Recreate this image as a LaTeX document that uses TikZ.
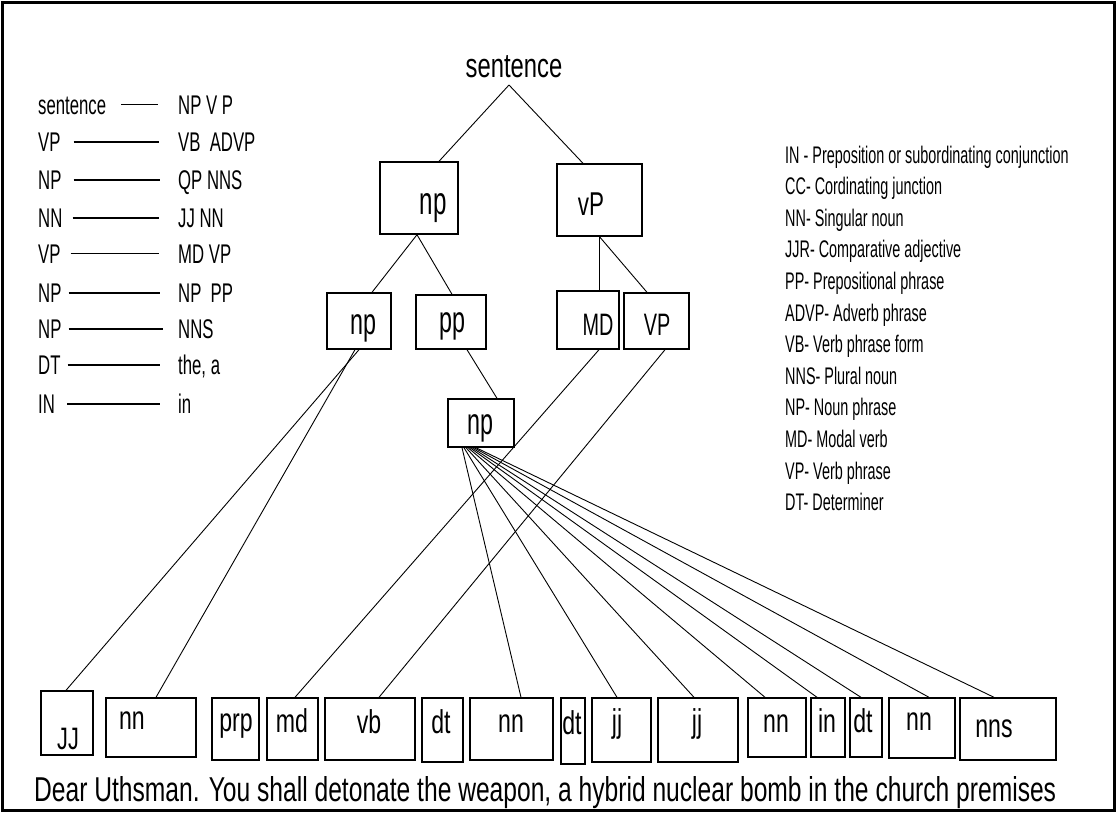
\documentclass[tikz,border=0pt]{standalone}
\usepackage{fontspec}
\setmainfont{Liberation Sans}
\usepackage{graphicx}
\newcommand{\sq}[3]{\scalebox{#1}[1]{\fontsize{#2}{#2}\selectfont #3}}
\begin{document}
\begin{tikzpicture}[x=1pt,y=-1pt,
  box/.style 2 args={draw, line width=1.4pt, inner sep=0pt, minimum width=#1, minimum height=#2},
  lbl/.style={inner sep=0pt, anchor=base},
  tl/.style={line width=0.9pt},
  rl/.style={line width=1.6pt},
  lt/.style={inner sep=0pt, anchor=base west, text height=19pt, text depth=0pt},
  lg/.style={inner sep=0pt, anchor=base west}]
\useasboundingbox (0,0) rectangle (1118,814);
\draw[line width=2.5pt] (2.5,2.5) rectangle (1114.5,810.5);

% top
\node[lbl] (sent) at (514,77) {\sq{0.7}{34}{sentence}};
\coordinate (apex) at (509,85);

% tree boxes
\node[box={78pt}{72pt}] (np1) at (419,198) {};
\node[box={85pt}{72pt}] (vp1) at (599.5,200) {};
\node[box={64pt}{56pt}] (np2) at (359,321) {};
\node[box={70pt}{54pt}] (pp) at (451,322) {};
\node[box={62pt}{58pt}] (md1) at (588,320) {};
\node[box={65pt}{56pt}] (vp2) at (656.5,321) {};
\node[box={66pt}{48pt}] (np3) at (481,423) {};

\node[lbl] (tnp1) at (433,214) {\sq{0.62}{39}{np}};
\node[lbl] (tvp1) at (591,215) {\sq{0.68}{33}{vP}};
\node[lbl] (tnp2) at (363,334) {\sq{0.63}{37}{np}};
\node[lbl] (tpp) at (452,332) {\sq{0.63}{37}{pp}};
\node[lbl] (tmd1) at (598,335) {\sq{0.64}{31}{MD}};
\node[lbl] (tvp2) at (657,335) {\sq{0.64}{31}{VP}};
\node[lbl] (tnp3) at (480,434) {\sq{0.63}{37}{np}};

% bottom boxes
\node[box={52pt}{64pt}] (b1) at (67,723) {};
\node[box={90pt}{59pt}] (b2) at (151,727.5) {};
\node[box={47pt}{62pt}] (b3) at (235.5,729) {};
\node[box={51pt}{62pt}] (b4) at (292.5,729) {};
\node[box={90pt}{62pt}] (b5) at (370,729) {};
\node[box={41pt}{64pt}] (b6) at (442.5,730) {};
\node[box={83pt}{62pt}] (b7) at (511.5,729) {};
\node[box={24pt}{66pt}] (b8) at (573,731) {};
\node[box={59pt}{64pt}] (b9) at (621.5,730) {};
\node[box={80pt}{64pt}] (b10) at (698,730) {};
\node[box={58pt}{59pt}] (b11) at (777,727.5) {};
\node[box={34pt}{59pt}] (b12) at (828,727.5) {};
\node[box={32pt}{59pt}] (b13) at (866,727.5) {};
\node[box={66pt}{60pt}] (b14) at (922,728) {};
\node[box={96pt}{62pt}] (b15) at (1008,729) {};

\node[lbl] (t1) at (68,749) {\sq{0.7}{31}{JJ}};
\node[lbl] (t2) at (132,729) {\sq{0.7}{33}{nn}};
\node[lbl] (t3) at (236,731) {\sq{0.7}{33}{prp}};
\node[lbl] (t4) at (292,732) {\sq{0.7}{33}{md}};
\node[lbl] (t5) at (369,733) {\sq{0.7}{33}{vb}};
\node[lbl] (t6) at (441,733) {\sq{0.7}{33}{dt}};
\node[lbl] (t7) at (511,732) {\sq{0.7}{33}{nn}};
\node[lbl] (t8) at (572,734) {\sq{0.7}{33}{dt}};
\node[lbl] (t9) at (617,732) {\sq{0.7}{33}{jj}};
\node[lbl] (t10) at (697,732) {\sq{0.7}{33}{jj}};
\node[lbl] (t11) at (776,732) {\sq{0.7}{33}{nn}};
\node[lbl] (t12) at (827,732) {\sq{0.7}{33}{in}};
\node[lbl] (t13) at (863,732) {\sq{0.7}{33}{dt}};
\node[lbl] (t14) at (919,730) {\sq{0.7}{33}{nn}};
\node[lbl] (t15) at (994,737) {\sq{0.7}{33}{nns}};

% sentence
\node[inner sep=0pt, anchor=base west] (sen) at (34,801) {\resizebox{1022pt}{25pt}{\fontsize{35}{35}\selectfont Dear Uthsman. You shall detonate the weapon, a hybrid nuclear bomb in the church premises}};

% tree connectors
\draw[tl] (apex) -- ([xshift=20pt]np1.north);
\draw[tl] (apex) -- ([xshift=-16.5pt]vp1.north);
\draw[tl] ([xshift=-2pt]np1.south) -- ([xshift=13pt]np2.north);
\draw[tl] ([xshift=-2pt]np1.south) -- ([xshift=1pt]pp.north);
\draw[tl] (vp1.south) -- (vp1.south |- md1.north);
\draw[tl] (vp1.south) -- ([xshift=-9.5pt]vp2.north);
\draw[tl] ([xshift=16pt]pp.south) -- ([xshift=16pt]np3.north);

\draw[tl] (np2.south) -- ([xshift=-1pt]b1.north);
\draw[tl] ([xshift=-4pt]np2.south) -- ([xshift=5pt]b2.north);
\draw[tl] ([xshift=11pt]md1.south) -- ([xshift=2.5pt]b4.north);
\draw[tl] ([xshift=8.5pt]vp2.south) -- ([xshift=9pt]b5.north);

\draw[tl] ([xshift=-19pt]np3.south) -- ([xshift=9.5pt]b7.north);
\draw[tl] ([xshift=-17pt]np3.south) -- ([xshift=-4.5pt]b9.north);
\draw[tl] ([xshift=-15pt]np3.south) -- ([xshift=-4pt]b10.north);
\draw[tl] ([xshift=-13pt]np3.south) -- ([xshift=-12pt]b11.north);
\draw[tl] ([xshift=-11pt]np3.south) -- ([xshift=-11pt]b12.north);
\draw[tl] ([xshift=-9pt]np3.south) -- ([xshift=-5pt]b13.north);
\draw[tl] ([xshift=-7pt]np3.south) -- ([xshift=7pt]b14.north);
\draw[tl] ([xshift=-5pt]np3.south) -- ([xshift=-14pt]b15.north);

% left rules
\node[lt] (l1) at (38,114) {\sq{0.62}{27}{sentence}};
\node[lt] (r1) at (178,114) {\sq{0.62}{27}{NP V P}};
\node[lt] (l2) at (38,151.5) {\sq{0.62}{27}{VP}};
\node[lt] (r2) at (178,151.5) {\sq{0.62}{27}{VB \ ADVP}};
\node[lt] (l3) at (38,189.5) {\sq{0.62}{27}{NP}};
\node[lt] (r3) at (178,189.5) {\sq{0.62}{27}{QP NNS}};
\node[lt] (l4) at (38,227.5) {\sq{0.62}{27}{NN}};
\node[lt] (r4) at (178,227.5) {\sq{0.62}{27}{JJ NN}};
\node[lt] (l5) at (38,263) {\sq{0.62}{27}{VP}};
\node[lt] (r5) at (178,263) {\sq{0.62}{27}{MD VP}};
\node[lt] (l6) at (38,302.5) {\sq{0.62}{27}{NP}};
\node[lt] (r6) at (178,302.5) {\sq{0.62}{27}{NP \ PP}};
\node[lt] (l7) at (38,338.5) {\sq{0.62}{27}{NP}};
\node[lt] (r7) at (178,338.5) {\sq{0.62}{27}{NNS}};
\node[lt] (l8) at (38,374.5) {\sq{0.62}{27}{DT}};
\node[lt] (r8) at (178,374.5) {\sq{0.62}{27}{the, a}};
\node[lt] (l9) at (38,413.5) {\sq{0.62}{27}{IN}};
\node[lt] (r9) at (178,413.5) {\sq{0.62}{27}{in}};

\draw[rl] ([xshift=15pt]l1.east) -- ([xshift=-20pt]r1.west);
\draw[rl] ([xshift=13pt]l2.east) -- ([xshift=-19pt]r2.west);
\draw[rl] ([xshift=12pt]l3.east) -- ([xshift=-18pt]r3.west);
\draw[rl] ([xshift=10pt]l4.east) -- ([xshift=-19pt]r4.west);
\draw[rl] ([xshift=10pt]l5.east) -- ([xshift=-19pt]r5.west);
\draw[rl] ([xshift=7pt]l6.east) -- ([xshift=-18pt]r6.west);
\draw[rl] ([xshift=7pt]l7.east) -- ([xshift=-15pt]r7.west);
\draw[rl] ([xshift=7pt]l8.east) -- ([xshift=-18pt]r8.west);
\draw[rl] ([xshift=12pt]l9.east) -- ([xshift=-18pt]r9.west);

% legend
\node[lg] (g1) at (785,163) {\sq{0.6}{24}{IN - Preposition or subordinating conjunction}};
\node[lg] (g2) at (785,194.6) {\sq{0.6}{24}{CC- Cordinating junction}};
\node[lg] (g3) at (785,226.2) {\sq{0.6}{24}{NN- Singular noun}};
\node[lg] (g4) at (785,257.8) {\sq{0.6}{24}{JJR- Comparative adjective}};
\node[lg] (g5) at (785,289.4) {\sq{0.6}{24}{PP- Prepositional phrase}};
\node[lg] (g6) at (785,321) {\sq{0.6}{24}{ADVP- Adverb phrase}};
\node[lg] (g7) at (785,352.6) {\sq{0.6}{24}{VB- Verb phrase form}};
\node[lg] (g8) at (785,384.2) {\sq{0.6}{24}{NNS- Plural noun}};
\node[lg] (g9) at (785,415.8) {\sq{0.6}{24}{NP- Noun phrase}};
\node[lg] (g10) at (785,447.4) {\sq{0.6}{24}{MD- Modal verb}};
\node[lg] (g11) at (785,479) {\sq{0.6}{24}{VP- Verb phrase}};
\node[lg] (g12) at (785,510.6) {\sq{0.6}{24}{DT- Determiner}};
\end{tikzpicture}
\end{document}
